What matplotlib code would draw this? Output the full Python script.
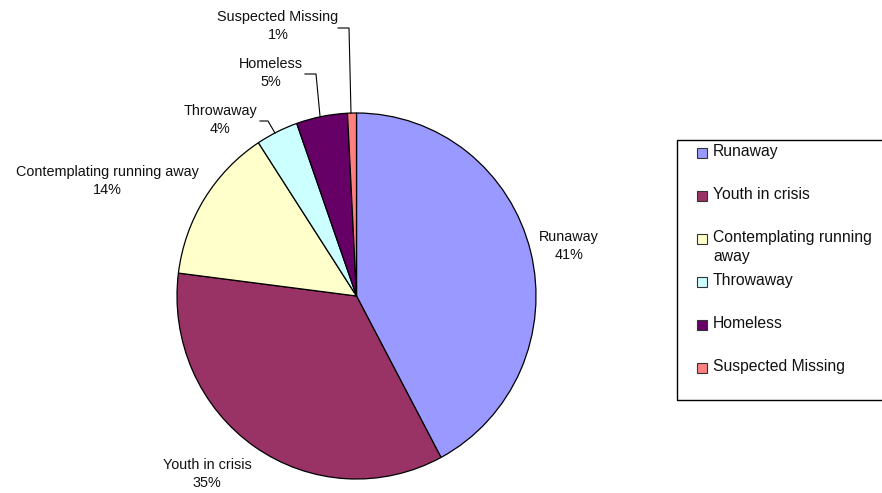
import matplotlib
matplotlib.use("Agg")
import matplotlib.pyplot as plt
from matplotlib.patches import Rectangle
from matplotlib.lines import Line2D

categories = ["Runaway", "Youth in crisis", "Contemplating running away",
              "Throwaway", "Homeless", "Suspected Missing"]
shares = [42.2, 34.8, 13.8, 3.8, 4.6, 0.8]
pct_labels = ["41%", "35%", "14%", "4%", "5%", "1%"]
colors = ["#9999FF", "#993366", "#FFFFCC", "#CCFFFF", "#660066", "#FF8080"]
legend_labels = ["Runaway", "Youth in crisis", "Contemplating running\naway",
                 "Throwaway", "Homeless", "Suspected Missing"]

plt.rcParams['font.family'] = ['Liberation Sans', 'DejaVu Sans']

W, H = 882, 493
fig = plt.figure(figsize=(W / 100, H / 100), dpi=100)

def fx(px):
    return px / W

def fy(py):
    return 1 - py / H

#pie axes, slightly taller than wide like the original
ax = fig.add_axes([fx(177), fy(479), 359 / W, 366 / H])
wedges, _ = ax.pie(shares, colors=colors, startangle=90, counterclock=False,
                   wedgeprops=dict(edgecolor='black', linewidth=0.9))
ax.set_aspect('auto')
ax.set_xlim(-1, 1)
ax.set_ylim(-1, 1)
ax.axis('off')

#slice labels (x centre, first line y) in pixels
label_pos = [(569, 238), (207, 466), (107, 173), (220, 112), (271, 65), (278, 18)]
for name, pct, (px, py) in zip(categories, pct_labels, label_pos):
    fig.text(fx(px), fy(py - 8), name + "\n" + pct, ha='center', va='top',
             fontsize=10.4, color='#111111', linespacing=1.35)

#leader lines
leaders = [
    [(338, 28), (349, 28), (351, 113)],
    [(305, 74), (316, 74), (320, 116)],
    [(260, 121), (268, 121), (275, 133)],
]
for pts in leaders:
    fig.add_artist(Line2D([fx(p[0]) for p in pts], [fy(p[1]) for p in pts],
                          color='black', linewidth=0.8))

#legend box, running past right edge like the original
fig.add_artist(Rectangle((fx(677), fy(400)), fx(230), 260 / H, fill=False,
                         edgecolor='black', linewidth=1.0))
row_y = 153
for lab, col in zip(legend_labels, colors):
    fig.add_artist(Rectangle((fx(697), fy(row_y + 5)), 10 / W, 10 / H,
                             facecolor=col, edgecolor='#333333', linewidth=0.8))
    fig.text(fx(713), fy(row_y - 9), lab, ha='left', va='top', fontsize=11.3,
             color='#111111', linespacing=1.3)
    row_y += 43

fig.savefig("out.png", dpi=100)
